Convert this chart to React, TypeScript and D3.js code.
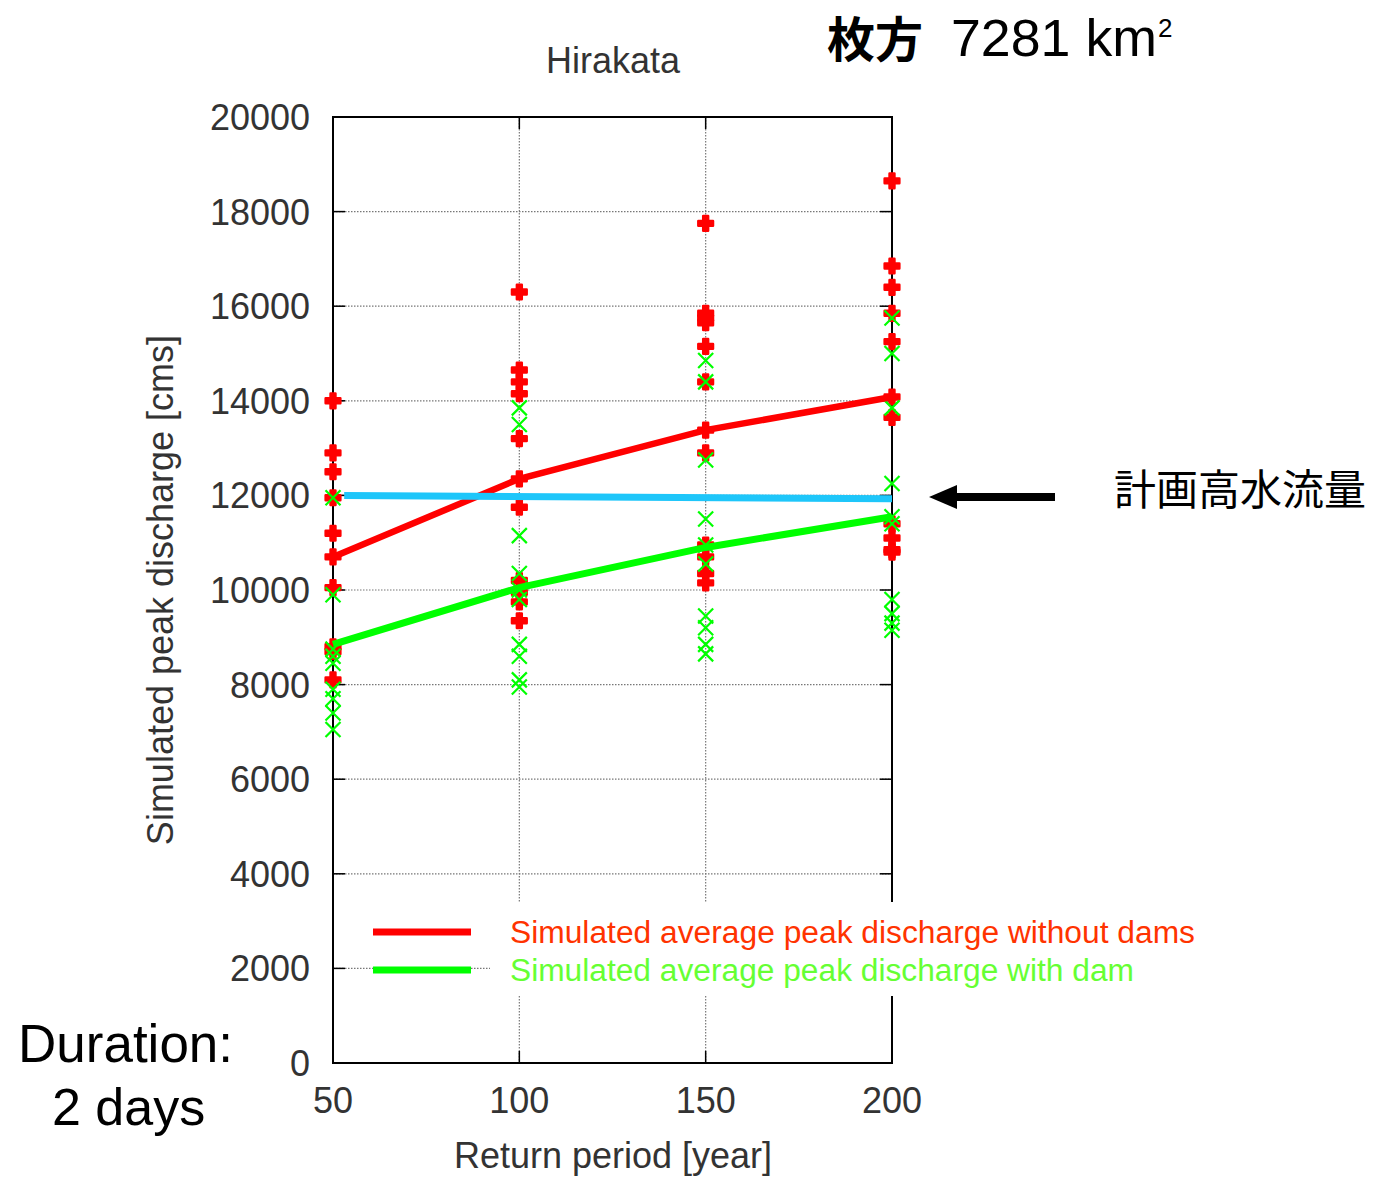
import React from "react";
import * as d3 from "d3";

const returnPeriods = [50, 100, 150, 200];
const yTicks = [0, 2000, 4000, 6000, 8000, 10000, 12000, 14000, 16000, 18000, 20000];

const peaksWithoutDams = [
  [14000, 12900, 12500, 11950, 11200, 10700, 10050, 8800, 8700, 8100],
  [16300, 14650, 14400, 14150, 13200, 12350, 11750, 10200, 9950, 9750, 9350],
  [17750, 15850, 15750, 15650, 15150, 14400, 13380, 12900, 10950, 10700, 10350, 10150],
  [18650, 16850, 16400, 15850, 15250, 14080, 13650, 11400, 11100, 10850, 10800],
];
const peaksWithDam = [
  [11950, 9900, 8750, 8600, 8450, 7900, 7700, 7400, 7050],
  [13850, 13500, 11150, 10350, 10000, 9800, 8850, 8600, 8100, 7950],
  [14850, 14400, 12750, 11500, 10950, 10550, 9450, 9200, 8850, 8650],
  [15750, 15000, 13850, 12250, 11550, 11400, 9800, 9500, 9300, 9150],
];
const meanWithoutDams = [10700, 12350, 13380, 14080];
const meanWithDam = [8850, 10050, 10900, 11550];
const planPeriods = [53, 200];
const planDischarge = [12000, 11930];

const legendLabels = [
  "Simulated average peak discharge without dams",
  "Simulated average peak discharge with dam",
];

const RED = "#ff0000";
const GREEN = "#00ff00";
const CYAN = "#1ec6fa";

export default function App() {
  const x = d3.scaleLinear().domain([50, 200]).range([333, 892]);
  const y = d3.scaleLinear().domain([0, 20000]).range([1063, 117]);
  const line = d3
    .line<[number, number]>()
    .x((d) => x(d[0]))
    .y((d) => y(d[1]));
  const cross = d3.symbol().type(d3.symbolCross).size(120)() as string;
  const font = "'Liberation Sans', Arial, sans-serif";
  const [x0, x1] = x.range();
  const [yb, yt] = y.range();

  return (
    <svg
      width={1376}
      height={1177}
      style={{ position: "absolute", left: 0, top: 0, background: "#fff" }}
      fontFamily={font}
    >
      <rect width={1376} height={1177} fill="#fff" />
      {/* grid */}
      {yTicks.slice(1, -1).map((t) => (
        <line key={"gy" + t} x1={x0} x2={x1} y1={y(t)} y2={y(t)} stroke="#777" strokeWidth={1.2} strokeDasharray="1.5,1.5" />
      ))}
      {returnPeriods.slice(1, -1).map((t) => (
        <line key={"gx" + t} x1={x(t)} x2={x(t)} y1={yt} y2={yb} stroke="#777" strokeWidth={1.2} strokeDasharray="1.5,1.5" />
      ))}
      {/* ticks */}
      {yTicks.map((t) => (
        <g key={"ty" + t}>
          <line x1={x0} x2={x0 + 12} y1={y(t)} y2={y(t)} stroke="#000" strokeWidth={1.5} />
          <line x1={x1 - 12} x2={x1} y1={y(t)} y2={y(t)} stroke="#000" strokeWidth={1.5} />
          <text x={310} y={y(t) + 13} textAnchor="end" fontSize={36} fill="#333">
            {t}
          </text>
        </g>
      ))}
      {returnPeriods.map((t) => (
        <g key={"tx" + t}>
          <line x1={x(t)} x2={x(t)} y1={yt} y2={yt + 12} stroke="#000" strokeWidth={1.5} />
          <line x1={x(t)} x2={x(t)} y1={yb - 12} y2={yb} stroke="#000" strokeWidth={1.5} />
          <text x={x(t)} y={1113} textAnchor="middle" fontSize={36} fill="#333">
            {t}
          </text>
        </g>
      ))}
      {/* frame */}
      <rect x={x0} y={yt} width={x1 - x0} height={yb - yt} fill="none" stroke="#000" strokeWidth={2} />

      {/* points */}
      {peaksWithoutDams.map((vals, i) =>
        vals.map((v, j) => (
          <path
            key={"r" + i + "-" + j}
            d={cross}
            transform={`translate(${x(returnPeriods[i])},${y(v)})`}
            fill={RED}
            stroke={RED}
            strokeWidth={2.5}
            strokeLinejoin="round"
          />
        ))
      )}
      {peaksWithDam.map((vals, i) =>
        vals.map((v, j) => {
          const cx = x(returnPeriods[i]);
          const cy = y(v);
          const s = 7.5;
          return (
            <path
              key={"g" + i + "-" + j}
              d={`M${cx - s},${cy - s}L${cx + s},${cy + s}M${cx - s},${cy + s}L${cx + s},${cy - s}`}
              stroke={GREEN}
              strokeWidth={2.2}
              fill="none"
            />
          );
        })
      )}
      {/* mean lines */}
      <path d={line(returnPeriods.map((p, i) => [p, meanWithoutDams[i]]))!} stroke={RED} strokeWidth={6.5} fill="none" />
      <path d={line(returnPeriods.map((p, i) => [p, meanWithDam[i]]))!} stroke={GREEN} strokeWidth={7} fill="none" />
      <path d={line(planPeriods.map((p, i) => [p, planDischarge[i]]))!} stroke={CYAN} strokeWidth={7} fill="none" />

      {/* legend */}
      <rect x={490} y={902} width={712} height={94} fill="#fff" />
      <line x1={373} x2={471} y1={932} y2={932} stroke={RED} strokeWidth={7} />
      <line x1={373} x2={471} y1={970} y2={970} stroke={GREEN} strokeWidth={7} />
      <text x={510} y={943} fontSize={31} fill="#ff3300" textLength={685} lengthAdjust="spacingAndGlyphs">
        {legendLabels[0]}
      </text>
      <text x={510} y={981} fontSize={31} fill="#66ff33" textLength={624} lengthAdjust="spacingAndGlyphs">
        {legendLabels[1]}
      </text>

      {/* titles */}
      <text x={613} y={73} textAnchor="middle" fontSize={36} fill="#333">
        Hirakata
      </text>
      <text x={613} y={1168} textAnchor="middle" fontSize={36} fill="#333">
        Return period [year]
      </text>
      <text transform="translate(173,590) rotate(-90)" textAnchor="middle" fontSize={36} fill="#333">
        Simulated peak discharge [cms]
      </text>

      {/* annotations */}
      <text x={827} y={57} fontSize={48} fontWeight="bold" fontFamily="'Noto Sans CJK JP', sans-serif" fill="#000">
        枚方
      </text>
      <text x={951} y={56} fontSize={51} fill="#000" textLength={206} lengthAdjust="spacingAndGlyphs">
        7281 km
      </text>
      <text x={1158} y={37} fontSize={26} fill="#000">
        2
      </text>
      <line x1={1055} x2={950} y1={497} y2={497} stroke="#000" strokeWidth={8} />
      <path d="M929,497L957,485L957,509Z" fill="#000" />
      <text x={1114} y={505} fontSize={42} fontFamily="'Noto Sans CJK JP', sans-serif" fill="#000">
        計画高水流量
      </text>
      <text x={18} y={1062} fontSize={53} fill="#000">
        Duration:
      </text>
      <text x={52} y={1125} fontSize={52} fill="#000">
        2 days
      </text>
    </svg>
  );
}
